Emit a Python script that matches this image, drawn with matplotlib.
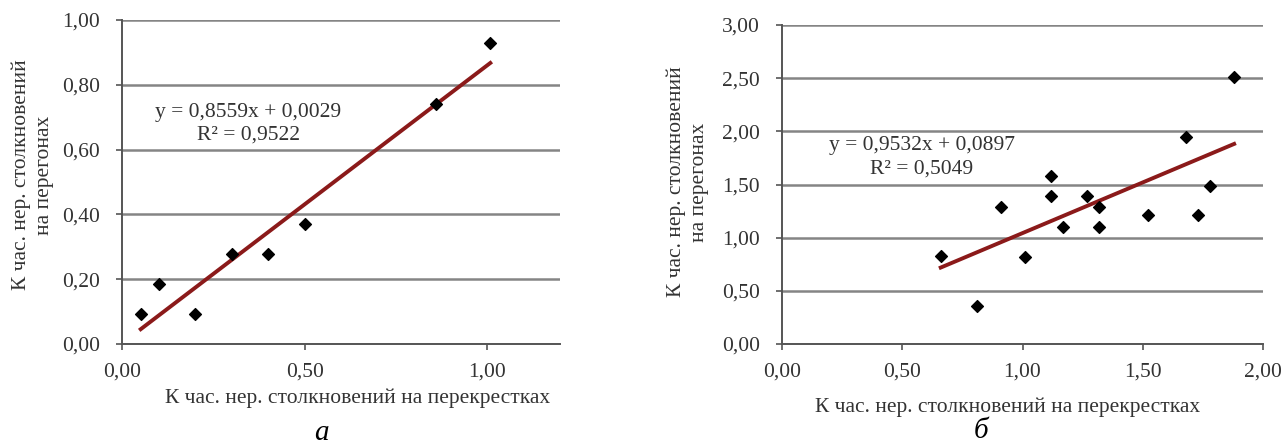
import numpy as np
import matplotlib.pyplot as plt

plt.rc("font", family = "Liberation Serif", size = 15.5)

# panel a
x_a = [0.05, 0.10, 0.20, 0.30, 0.40, 0.50, 0.86, 1.01]
y_a = [0.093, 0.185, 0.093, 0.277, 0.277, 0.37, 0.74, 0.93]
fit_a = (0.8559, 0.0029)
eq_a = "y = 0,8559x + 0,0029\nR² = 0,9522"

# panel b
x_b = [0.66, 0.81, 0.91, 1.01, 1.12, 1.12, 1.17, 1.27, 1.32, 1.32, 1.52, 1.68, 1.73, 1.78, 1.88]
y_b = [0.83, 0.36, 1.29, 0.82, 1.58, 1.39, 1.10, 1.39, 1.29, 1.10, 1.21, 1.95, 1.21, 1.49, 2.51]
fit_b = (0.9532, 0.0897)
eq_b = "y = 0,9532x + 0,0897\nR² = 0,5049"

x_label = "К час. нер. столкновений на перекрестках"
y_label = "К час. нер. столкновений\nна перегонах"

W, H = 1285, 448
fig = plt.figure(figsize = (W / 100, H / 100), dpi = 100)
txt = "#333333"

def px(x0, y0, x1, y1):
    return [x0 / W, 1 - y1 / H, (x1 - x0) / W, (y1 - y0) / H]

def fmt(v, pos):
    return ("%.2f" % v).replace(".", ",")

def panel(rect, xs, ys, fit, eq, xmax, xstep, ymax, ystep, eq_xy):
    ax = fig.add_axes(rect)
    ax.set_xlim(0, xmax)
    ax.set_ylim(0, ymax)
    ax.set_xticks(np.arange(0, xmax + 1e-9, xstep))
    ax.set_yticks(np.arange(0, ymax + 1e-9, ystep))
    ax.xaxis.set_major_formatter(plt.FuncFormatter(fmt))
    ax.yaxis.set_major_formatter(plt.FuncFormatter(fmt))
    ax.grid(axis = "y", color = "#858585", linewidth = 1.8)
    ax.set_axisbelow(True)
    for s in ["top", "right"]:
        ax.spines[s].set_visible(False)
    for s in ["left", "bottom"]:
        ax.spines[s].set_color("#555555")
        ax.spines[s].set_linewidth(1.4)
    ax.tick_params(colors = "#555555", labelcolor = txt, length = 4, width = 1.2, labelsize = 15.5)
    ax.tick_params(axis = "x", pad = 9)
    ax.tick_params(axis = "y", pad = 12)
    xx = np.array([min(xs), max(xs)])
    ax.plot(xx, fit[0] * xx + fit[1], color = "#8b1a1a", linewidth = 2.8, zorder = 2)
    ax.scatter(xs, ys, marker = "D", s = 36, color = "black", zorder = 3, clip_on = False)
    ax.text(eq_xy[0], eq_xy[1], eq, ha = "center", va = "center", color = txt,
            fontsize = 15.5, linespacing = 1.3, transform = ax.transData)
    return ax

ax_a = panel(px(122.5, 20, 559.5, 344), x_a, y_a, fit_a, eq_a, 1.2, 0.5, 1.0, 0.2, (0.345, 0.680))
ax_b = panel(px(782, 25, 1263, 344), x_b, y_b, fit_b, eq_b, 2.0, 0.5, 3.0, 0.5, (0.582, 1.755))

fig.text(358 / W, 1 - 398 / H, x_label, ha = "center", va = "center", color = txt)
fig.text(1008 / W, 1 - 407 / H, x_label, ha = "center", va = "center", color = txt)
fig.text(33 / W, 1 - 175 / H, y_label, ha = "center", va = "center", rotation = 90, color = txt, linespacing = 1.3)
fig.text(688 / W, 1 - 182 / H, y_label, ha = "center", va = "center", rotation = 90, color = txt, linespacing = 1.3)
fig.text(321 / W, 1 - 433 / H, "а", ha = "center", va = "center", style = "italic", fontsize = 21)
fig.text(981 / W, 1 - 431 / H, "б", ha = "center", va = "center", style = "italic", fontsize = 21)

fig.savefig("out.png", dpi = 100)
